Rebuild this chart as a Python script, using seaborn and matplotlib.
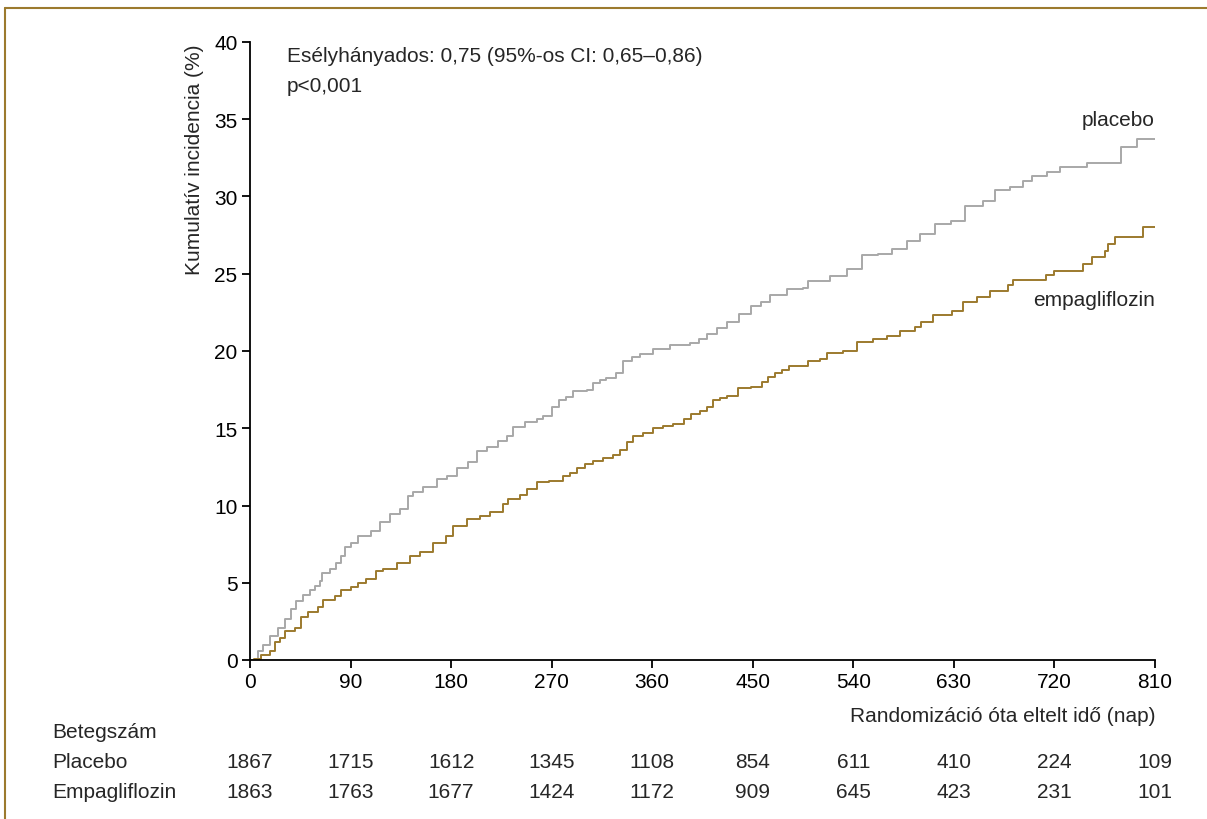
import matplotlib
matplotlib.use("Agg")
import matplotlib.pyplot as plt
from matplotlib import font_manager
from matplotlib.lines import Line2D
import seaborn as sns
import pandas as pd

# ---- data ----
placebo_days = [0, 7, 12, 18, 25, 31, 37, 41, 47, 54, 58, 63, 64, 72, 77, 81, 85, 90, 97,
                108, 116, 125, 134, 141, 146, 155, 167, 176, 185, 195, 203, 212, 222, 230,
                235, 246, 257, 262, 270, 277, 283, 289, 302, 307, 313, 319, 328, 334, 342,
                349, 361, 376, 394, 402, 409, 418, 427, 438, 448, 457, 465, 481, 495, 499,
                519, 534, 548, 562, 575, 588, 600, 613, 627, 640, 656, 667, 680, 692, 700,
                713, 725, 749, 780, 794, 810]
placebo_vals = [0, 0.6, 1.0, 1.55, 2.1, 2.65, 3.3, 3.8, 4.2, 4.5, 4.8, 5.1, 5.6, 5.9, 6.3,
                6.7, 7.3, 7.6, 8.0, 8.35, 8.9, 9.45, 9.8, 10.6, 10.9, 11.2, 11.7, 11.9, 12.4,
                12.8, 13.5, 13.8, 14.2, 14.5, 15.1, 15.4, 15.6, 15.8, 16.4, 16.8, 17.0, 17.4,
                17.5, 17.9, 18.1, 18.25, 18.6, 19.35, 19.6, 19.8, 20.1, 20.4, 20.5, 20.8,
                21.1, 21.5, 21.9, 22.4, 22.9, 23.2, 23.6, 24.0, 24.1, 24.5, 24.85, 25.3,
                26.2, 26.3, 26.6, 27.1, 27.6, 28.2, 28.4, 29.4, 29.7, 30.4, 30.6, 31.0,
                31.3, 31.6, 31.9, 32.2, 33.2, 33.7, 33.7]

empa_days = [0, 4, 10, 18, 22, 27, 31, 40, 46, 52, 61, 65, 76, 81, 90, 97, 104, 113, 119,
             132, 143, 152, 164, 175, 182, 194, 206, 215, 226, 231, 242, 248, 257, 268, 280,
             286, 293, 300, 307, 316, 325, 331, 337, 343, 352, 361, 370, 379, 388, 395, 403,
             409, 414, 421, 427, 437, 448, 458, 464, 470, 476, 482, 499, 510, 516, 531, 543,
             558, 570, 582, 595, 601, 611, 628, 638, 651, 662, 678, 683, 712, 720, 746, 754,
             765, 768, 774, 799, 810]
empa_vals = [0, 0.05, 0.3, 0.6, 1.15, 1.4, 1.9, 2.1, 2.8, 3.1, 3.4, 3.9, 4.15, 4.5, 4.7, 5.0,
             5.25, 5.75, 5.9, 6.3, 6.7, 7.0, 7.6, 8.0, 8.7, 9.1, 9.3, 9.6, 10.1, 10.4, 10.7,
             11.1, 11.5, 11.6, 11.9, 12.1, 12.4, 12.7, 12.9, 13.1, 13.3, 13.6, 14.1, 14.5,
             14.7, 15.0, 15.15, 15.3, 15.6, 15.9, 16.1, 16.4, 16.8, 16.95, 17.1, 17.6, 17.7,
             18.0, 18.3, 18.6, 18.8, 19.0, 19.35, 19.5, 19.9, 20.0, 20.6, 20.8, 21.0, 21.3,
             21.55, 21.9, 22.3, 22.6, 23.2, 23.5, 23.9, 24.3, 24.6, 24.9, 25.2, 25.6, 26.1,
             26.5, 26.9, 27.4, 28.0, 28.0]

x_ticks = [0, 90, 180, 270, 360, 450, 540, 630, 720, 810]
y_ticks = [0, 5, 10, 15, 20, 25, 30, 35, 40]
risk_placebo = [1867, 1715, 1612, 1345, 1108, 854, 611, 410, 224, 109]
risk_empa = [1863, 1763, 1677, 1424, 1172, 909, 645, 423, 231, 101]

# ---- style ----
sns.set_theme(style="white")
names = {f.name for f in font_manager.fontManager.ttflist}
primary = "Liberation Sans Narrow" if "Liberation Sans Narrow" in names else "Liberation Sans"
plt.rcParams["font.family"] = [primary, "DejaVu Sans"]

GOLD = "#9c7a2e"
GREY = "#a8a8a8"
FS = 15

df = pd.concat([
    pd.DataFrame({"day": placebo_days, "value": placebo_vals, "group": "placebo"}),
    pd.DataFrame({"day": empa_days, "value": empa_vals, "group": "empagliflozin"}),
], ignore_index=True)

W, H = 1207, 820
fig = plt.figure(figsize=(W / 100, H / 100), dpi=100)
ax = fig.add_axes([250 / W, 1 - 661 / H, (1155 - 250) / W, (661 - 43) / H])

sns.lineplot(data=df, x="day", y="value", hue="group",
             palette={"placebo": GREY, "empagliflozin": GOLD},
             drawstyle="steps-post", estimator=None, legend=False,
             linewidth=1.4, ax=ax)

ax.set_xlim(0, 810)
ax.set_ylim(0, 40)
ax.set_xticks(x_ticks)
ax.set_yticks(y_ticks)
ax.set_xticklabels([str(t) for t in x_ticks])
ax.set_yticklabels([str(t) for t in y_ticks])
ax.set_xlabel("")
ax.set_ylabel("")
for s in ["top", "right"]:
    ax.spines[s].set_visible(False)
for s in ["left", "bottom"]:
    ax.spines[s].set_color("black")
    ax.spines[s].set_linewidth(1.3)
ax.tick_params(axis="both", direction="out", length=6, width=1.3, color="black",
               labelsize=FS, labelcolor="black", pad=3)
ax.tick_params(axis="both", which="both", left=True, bottom=True)

# annotations
fig.text(287 / W, 1 - 57 / H, "Esélyhányados: 0,75 (95%-os CI: 0,65–0,86)", fontsize=FS,
         ha="left", va="center")
fig.text(287 / W, 1 - 86 / H, "p<0,001", fontsize=FS, ha="left", va="center")
fig.text(1155 / W, 1 - 120 / H, "placebo", fontsize=FS, ha="right", va="center")
fig.text(1155 / W, 1 - 300 / H, "empagliflozin", fontsize=FS, ha="right", va="center")
fig.text(195 / W, 1 - 160 / H, "Kumulatív incidencia (%)", fontsize=FS, rotation=90,
         ha="center", va="center")
fig.text(1155 / W, 1 - 717 / H, "Randomizáció óta eltelt idő (nap)", fontsize=FS,
         ha="right", va="center")

# risk table
fig.text(52 / W, 1 - 733 / H, "Betegszám", fontsize=FS, ha="left", va="center")
fig.text(52 / W, 1 - 763 / H, "Placebo", fontsize=FS, ha="left", va="center")
fig.text(52 / W, 1 - 793 / H, "Empagliflozin", fontsize=FS, ha="left", va="center")
for t, p, e in zip(x_ticks, risk_placebo, risk_empa):
    xf = fig.transFigure.inverted().transform(ax.transData.transform((t, 0)))[0]
    fig.text(xf, 1 - 763 / H, str(p), fontsize=FS, ha="center", va="center")
    fig.text(xf, 1 - 793 / H, str(e), fontsize=FS, ha="center", va="center")

# frame
fig.add_artist(Line2D([5 / W, 1], [1 - 9 / H, 1 - 9 / H], transform=fig.transFigure,
                      color=GOLD, linewidth=1.5))
fig.add_artist(Line2D([5 / W, 5 / W], [0, 1 - 9 / H], transform=fig.transFigure,
                      color=GOLD, linewidth=1.5))

fig.savefig("out.png", dpi=100)
